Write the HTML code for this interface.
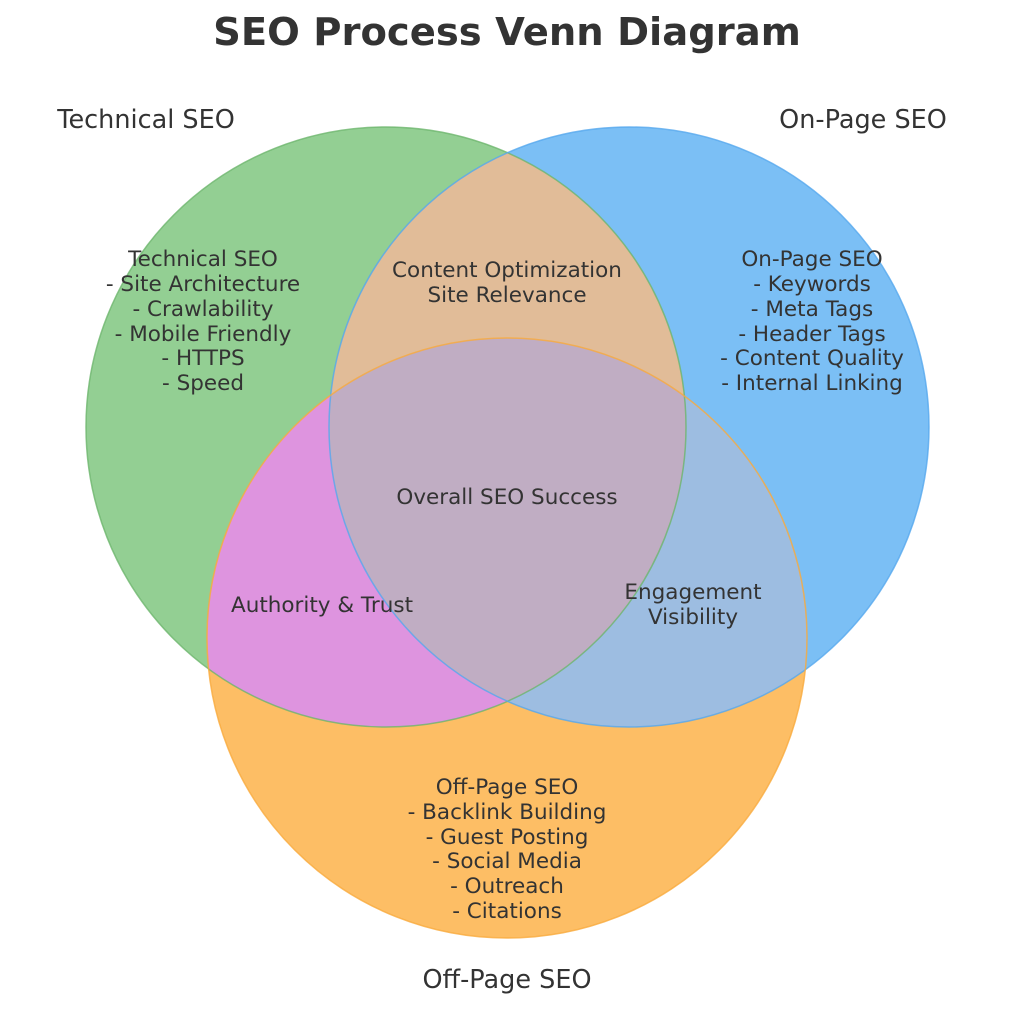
<!DOCTYPE html>
<html><head><meta charset="utf-8"><style>
html,body{margin:0;padding:0;background:#fff;}
svg{display:block;}
text{font-family:"DejaVu Sans","Liberation Sans",sans-serif;fill:#333;}
</style></head><body>
<svg width="1015" height="1024" viewBox="0 0 1015 1024" xmlns="http://www.w3.org/2000/svg">
<defs>
<clipPath id="cg"><circle cx="386" cy="427" r="300"/></clipPath>
<clipPath id="cb"><circle cx="629" cy="427" r="300"/></clipPath>
<clipPath id="co"><circle cx="507" cy="638" r="300"/></clipPath>
</defs>
<circle cx="386" cy="427" r="300" fill="#93CF93"/>
<circle cx="629" cy="427" r="300" fill="#7BBFF5"/>
<circle cx="507" cy="638" r="300" fill="#FDBE65"/>
<g clip-path="url(#cg)"><circle cx="629" cy="427" r="300" fill="#E1BC98"/></g>
<g clip-path="url(#cg)"><circle cx="507" cy="638" r="300" fill="#DE94DF"/></g>
<g clip-path="url(#cb)"><circle cx="507" cy="638" r="300" fill="#9DBDE1"/></g>
<g clip-path="url(#cg)"><g clip-path="url(#cb)"><circle cx="507" cy="638" r="300" fill="#C0ADC3"/></g></g>
<circle cx="386" cy="427" r="300" fill="none" stroke="#6DB56D" stroke-width="1.5" opacity="0.8"/>
<circle cx="629" cy="427" r="300" fill="none" stroke="#55A8EE" stroke-width="1.5" opacity="0.8"/>
<circle cx="507" cy="638" r="300" fill="none" stroke="#F9AA3C" stroke-width="1.5" opacity="0.8"/>

<text x="507" y="45" text-anchor="middle" font-size="38.5" font-weight="bold">SEO Process Venn Diagram</text>
<text x="146" y="128" text-anchor="middle" font-size="25.5">Technical SEO</text>
<text x="863" y="128" text-anchor="middle" font-size="25.5">On-Page SEO</text>
<text x="507" y="988" text-anchor="middle" font-size="25.5">Off-Page SEO</text>

<g font-size="21.5" text-anchor="middle">
<text x="203" y="266">Technical SEO</text>
<text x="203" y="291">- Site Architecture</text>
<text x="203" y="316">- Crawlability</text>
<text x="203" y="341">- Mobile Friendly</text>
<text x="203" y="365">- HTTPS</text>
<text x="203" y="390">- Speed</text>

<text x="812" y="266">On-Page SEO</text>
<text x="812" y="291">- Keywords</text>
<text x="812" y="316">- Meta Tags</text>
<text x="812" y="341">- Header Tags</text>
<text x="812" y="365">- Content Quality</text>
<text x="812" y="390">- Internal Linking</text>

<text x="507" y="794">Off-Page SEO</text>
<text x="507" y="819">- Backlink Building</text>
<text x="507" y="844">- Guest Posting</text>
<text x="507" y="868">- Social Media</text>
<text x="507" y="893">- Outreach</text>
<text x="507" y="918">- Citations</text>

<text x="507" y="277">Content Optimization</text>
<text x="507" y="302">Site Relevance</text>
<text x="507" y="504">Overall SEO Success</text>
<text x="322" y="612">Authority &amp; Trust</text>
<text x="693" y="599">Engagement</text>
<text x="693" y="624">Visibility</text>
</g>
</svg>
</body></html>
